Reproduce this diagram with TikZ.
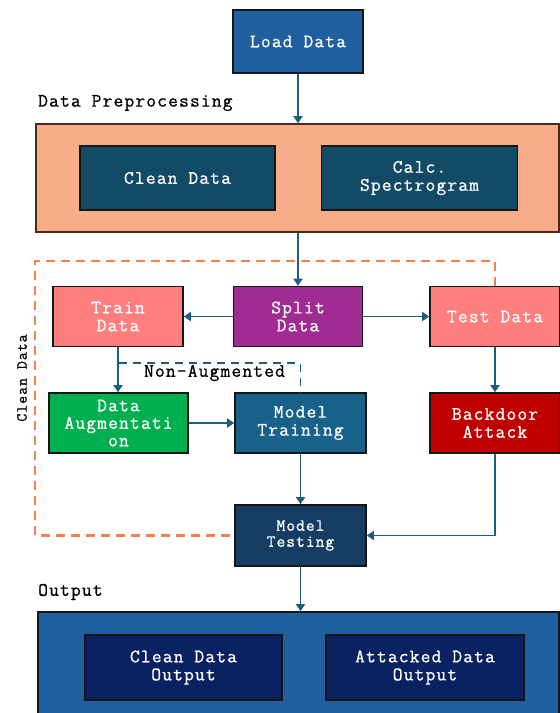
\documentclass[tikz,border=0pt]{standalone}
\usepackage{fontspec}
\setmainfont{Latin Modern Mono}[LetterSpace=6,FakeBold=0.8]
\usetikzlibrary{arrows.meta}

\definecolor{cBlue}{HTML}{2060A0}
\definecolor{cPre}{HTML}{F7AD89}
\definecolor{cPreEdge}{HTML}{4A2A1A}
\definecolor{cTeal}{HTML}{134B66}
\definecolor{cPink}{HTML}{FF7F7F}
\definecolor{cPurple}{HTML}{A02B93}
\definecolor{cGreen}{HTML}{00B050}
\definecolor{cTrain}{HTML}{17618A}
\definecolor{cRed}{HTML}{C00000}
\definecolor{cTest}{HTML}{163E62}
\definecolor{cNavy}{HTML}{0B2262}
\definecolor{cArrow}{HTML}{1B5E80}
\definecolor{cOrange}{HTML}{F0844C}
\definecolor{cEdge}{HTML}{161616}

\tikzset{
  box/.style={draw=cEdge, line width=1.6pt, text=white, align=center,
    inner sep=0pt, font=\fontsize{19}{18}\selectfont},
  group/.style={draw=cEdge, line width=1.6pt, inner sep=0pt},
  lbl/.style={text=black, inner sep=0pt, font=\fontsize{19}{18}\selectfont},
  arr/.style={draw=cArrow, line width=1.8pt, -{Triangle[length=7pt,width=9pt]}},
  nonaug/.style={draw=cArrow, line width=1.8pt, dash pattern=on 8pt off 6pt},
  cleanline/.style={draw=cOrange, line width=2.4pt, dash pattern=on 9pt off 6pt}
}

\begin{document}
\begin{tikzpicture}[x=1pt,y=-1pt]
\useasboundingbox (0,0) rectangle (560,713);
\clip (0,0) rectangle (560,713);
\fill[white] (0,0) rectangle (560,713);

% top
\node[box, fill=cBlue, minimum width=130pt, minimum height=63pt] (load) at (298,41.5) {Load Data};

% preprocessing group
\node[lbl, anchor=west] (prelbl) at (38,103) {Data Preprocessing};
\node[group, draw=cPreEdge, fill=cPre, minimum width=523pt, minimum height=108pt] (pre) at (297.5,178) {};
\node[box, fill=cTeal, minimum width=195pt, minimum height=64pt] (clean) at (177.5,178) {Clean Data};
\node[box, fill=cTeal, minimum width=196pt, minimum height=64pt] (spec) at (419.5,178) {Calc.\\Spectrogram};

% split stage
\node[box, fill=cPink, minimum width=130pt, minimum height=60pt] (train) at (118,316.5) {Train\\Data};
\node[box, fill=cPurple, minimum width=129pt, minimum height=60pt] (split) at (298,316.5) {Split\\Data};
\node[box, fill=cPink, minimum width=130pt, minimum height=60pt] (test) at (495,316.5) {Test Data};

% training stage
\node[box, fill=cGreen, minimum width=139pt, minimum height=60pt,
  font=\fontsize{19}{17.5}\selectfont] (aug) at (118.5,423) {Data\\Augmentati\\on};
\node[box, fill=cTrain, minimum width=131pt, minimum height=60pt] (mtrain) at (300.5,423) {Model\\Training};
\node[box, fill=cRed, minimum width=130pt, minimum height=60pt] (bd) at (495,423) {Backdoor\\Attack};
\node[box, fill=cTest, minimum width=131pt, minimum height=61pt,
  font=\fontsize{17}{16}\selectfont] (mtest) at (300.5,535.5) {Model\\Testing};

\node[lbl] (nalbl) at (214.5,373) {Non-Augmented};
\node[lbl, rotate=90, font=\fontsize{15.5}{15}\selectfont] (cleanlbl) at (22,378) {Clean Data};

% output group
\node[lbl, anchor=west] (outlbl) at (38,592) {Output};
\node[group, fill=cBlue, minimum width=521pt, minimum height=110pt] (out) at (298.5,667) {};
\node[box, fill=cNavy, minimum width=197pt, minimum height=65pt] (cout) at (183.5,667.5) {Clean Data\\Output};
\node[box, fill=cNavy, minimum width=198pt, minimum height=65pt] (aout) at (425,667.5) {Attacked Data\\Output};

% connectors
\draw[arr] (load.south) -- (load.south |- pre.north);
\draw[arr] (split.north |- pre.south) -- (split.north);
\draw[arr] (split.west) -- (train.east);
\draw[arr] (split.east) -- (test.west);
\draw[arr] (train.south) -- (train.south |- aug.north);
\draw[arr] (aug.east) -- (mtrain.west);
\draw[arr] (test.south) -- (bd.north);
\draw[arr] (mtrain.south) -- (mtest.north);
\draw[arr] (bd.south) |- (mtest.east);
\draw[arr] (mtest.south) -- (mtest.south |- out.north);

\coordinate (nastart) at (119,363);
\draw[nonaug] (nastart) -- (nastart -| mtrain.north) -- (mtrain.north);

\coordinate (cltop) at (35,261);
\draw[cleanline] (test.north) |- (cltop) |- (mtest.west);
\end{tikzpicture}
\end{document}
